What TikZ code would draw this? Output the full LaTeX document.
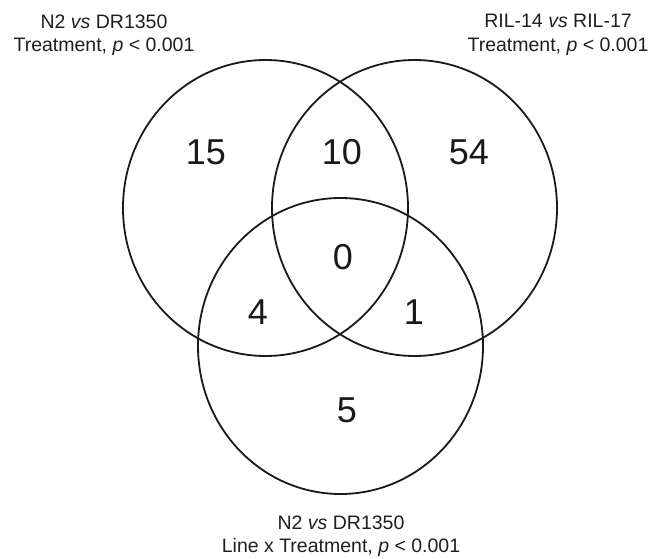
\documentclass[tikz,border=0pt]{standalone}
\usepackage{fontspec}
\setmainfont{Liberation Sans}
\usetikzlibrary{shapes.geometric}
\begin{document}
\begin{tikzpicture}[x=1pt,y=-1pt,
  setshape/.style={draw=black!90, line width=1.8pt, ellipse, minimum width=285pt, minimum height=296pt, inner sep=0pt, outer sep=0pt},
  count/.style={font=\fontsize{36}{42}\selectfont, text=black!90, inner sep=0pt},
  setlabel/.style={font=\fontsize{19.5}{23.4}\selectfont, align=center, text=black!88, inner sep=0pt}]
\useasboundingbox[fill=white] (0,0) rectangle (651,559);
\node[setshape] (A) at (265.5,208) {};
\node[setshape] (B) at (414.5,208) {};
\node[setshape] (C) at (340.5,346) {};
\node[count] (nA) at (206,152) {15};
\node[count] (nAB) at (342,152) {10};
\node[count] (nB) at (469,152) {54};
\node[count] (nABC) at (343,257) {0};
\node[count] (nAC) at (258,312) {4};
\node[count] (nBC) at (414,312) {1};
\node[count] (nC) at (347,410) {5};
\node[setlabel] (lA) at (104,35) {N2 \textit{vs} DR1350\\Treatment, \textit{p} < 0.001};
\node[setlabel] (lB) at (558,35) {RIL-14 \textit{vs} RIL-17\\Treatment, \textit{p} < 0.001};
\node[setlabel] (lC) at (341,536) {N2 \textit{vs} DR1350\\Line x Treatment, \textit{p} < 0.001};
\end{tikzpicture}
\end{document}
